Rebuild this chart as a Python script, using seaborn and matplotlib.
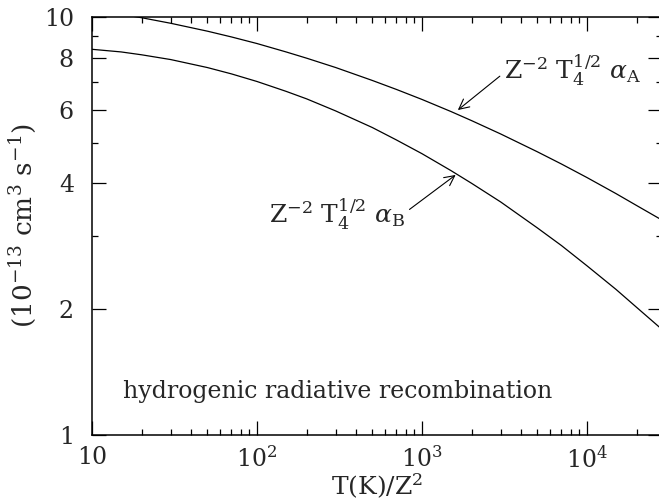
import numpy as np
import pandas as pd
import matplotlib
matplotlib.use("Agg")
import matplotlib.pyplot as plt
import matplotlib.ticker as mticker
import seaborn as sns

# temperature grid T(K)/Z^2 and curve values (10^-13 cm^3 s^-1)
temps = [10, 15, 20, 30, 50, 70, 100, 150, 200, 300, 500, 700, 1000, 1500,
         2000, 3000, 5000, 7000, 10000, 15000, 20000, 28000]
alpha_a = [10.40, 10.15, 9.96, 9.66, 9.25, 8.96, 8.64, 8.25, 7.97, 7.57, 7.05,
           6.71, 6.35, 5.94, 5.65, 5.25, 4.76, 4.45, 4.13, 3.78, 3.54, 3.28]
alpha_b = [8.37, 8.25, 8.12, 7.91, 7.57, 7.31, 7.01, 6.64, 6.37, 5.96, 5.44,
           5.08, 4.71, 4.29, 4.00, 3.61, 3.13, 2.84, 2.54, 2.23, 2.02, 1.80]

xticks = [10, 100, 1000, 10000]
xticklabels = ["10", "$10^2$", "$10^3$", "$10^4$"]
yticks = [1, 2, 4, 6, 8, 10]
yticklabels = ["1", "2", "4", "6", "8", "10"]
yminor = [3, 5, 7, 9]

df = pd.DataFrame({
    "T": temps * 2,
    "val": alpha_a + alpha_b,
    "case": ["A"] * len(temps) + ["B"] * len(temps),
})

sns.set_style("ticks")
plt.rcParams["font.family"] = ["DejaVu Serif"]
plt.rcParams["mathtext.fontset"] = "dejavuserif"

fig = plt.figure(figsize=(6.59, 4.99), dpi=100)
# right spine sits just past the image edge, as in the reference
ax = fig.add_axes([92 / 659, 1 - 435 / 499, 570 / 659, 418 / 499])

sns.lineplot(data=df, x="T", y="val", units="case", estimator=None,
             color="black", lw=0.9, ax=ax, legend=False)

ax.set_xscale("log")
ax.set_yscale("log")
ax.set_xlim(10, 28500)
ax.set_ylim(1, 10)

ax.xaxis.set_major_locator(mticker.FixedLocator(xticks))
ax.xaxis.set_major_formatter(mticker.FixedFormatter(xticklabels))
ax.xaxis.set_minor_locator(mticker.LogLocator(base=10, subs=np.arange(2, 10)))
ax.xaxis.set_minor_formatter(mticker.NullFormatter())
ax.yaxis.set_major_locator(mticker.FixedLocator(yticks))
ax.yaxis.set_major_formatter(mticker.FixedFormatter(yticklabels))
ax.yaxis.set_minor_locator(mticker.FixedLocator(yminor))
ax.yaxis.set_minor_formatter(mticker.NullFormatter())

ax.tick_params(which="both", direction="in", top=True, right=True,
               labelsize=17, width=0.9, color="black")
ax.tick_params(which="major", length=10)
ax.tick_params(which="minor", length=4.5)
ax.tick_params(axis="x", which="major", pad=8)
ax.tick_params(axis="y", which="major", pad=13)
for s in ax.spines.values():
    s.set_linewidth(1.1)
    s.set_color("black")

ax.set_xlabel("T(K)/Z$^2$", fontsize=18, labelpad=-1)
ax.set_ylabel("(10$^{-13}$ cm$^3$ s$^{-1}$)", fontsize=19, labelpad=4)

ax.annotate(r"Z$^{-2}$ T$_4^{1/2}$ $\alpha_{\rm A}$", xy=(1650, 5.99),
            xytext=(3150, 7.43), fontsize=18, va="center", ha="left",
            arrowprops=dict(arrowstyle="->", lw=0.8, color="black",
                            shrinkA=1, shrinkB=0, relpos=(0.0, 0.45)))
ax.annotate(r"Z$^{-2}$ T$_4^{1/2}$ $\alpha_{\rm B}$", xy=(1600, 4.19),
            xytext=(790, 3.37), fontsize=18, va="center", ha="right",
            arrowprops=dict(arrowstyle="->", lw=0.8, color="black",
                            shrinkA=1, shrinkB=0, relpos=(1.0, 0.55)))

ax.text(15.5, 1.225, "hydrogenic radiative recombination", fontsize=17)

fig.savefig("out.png", dpi=100)
